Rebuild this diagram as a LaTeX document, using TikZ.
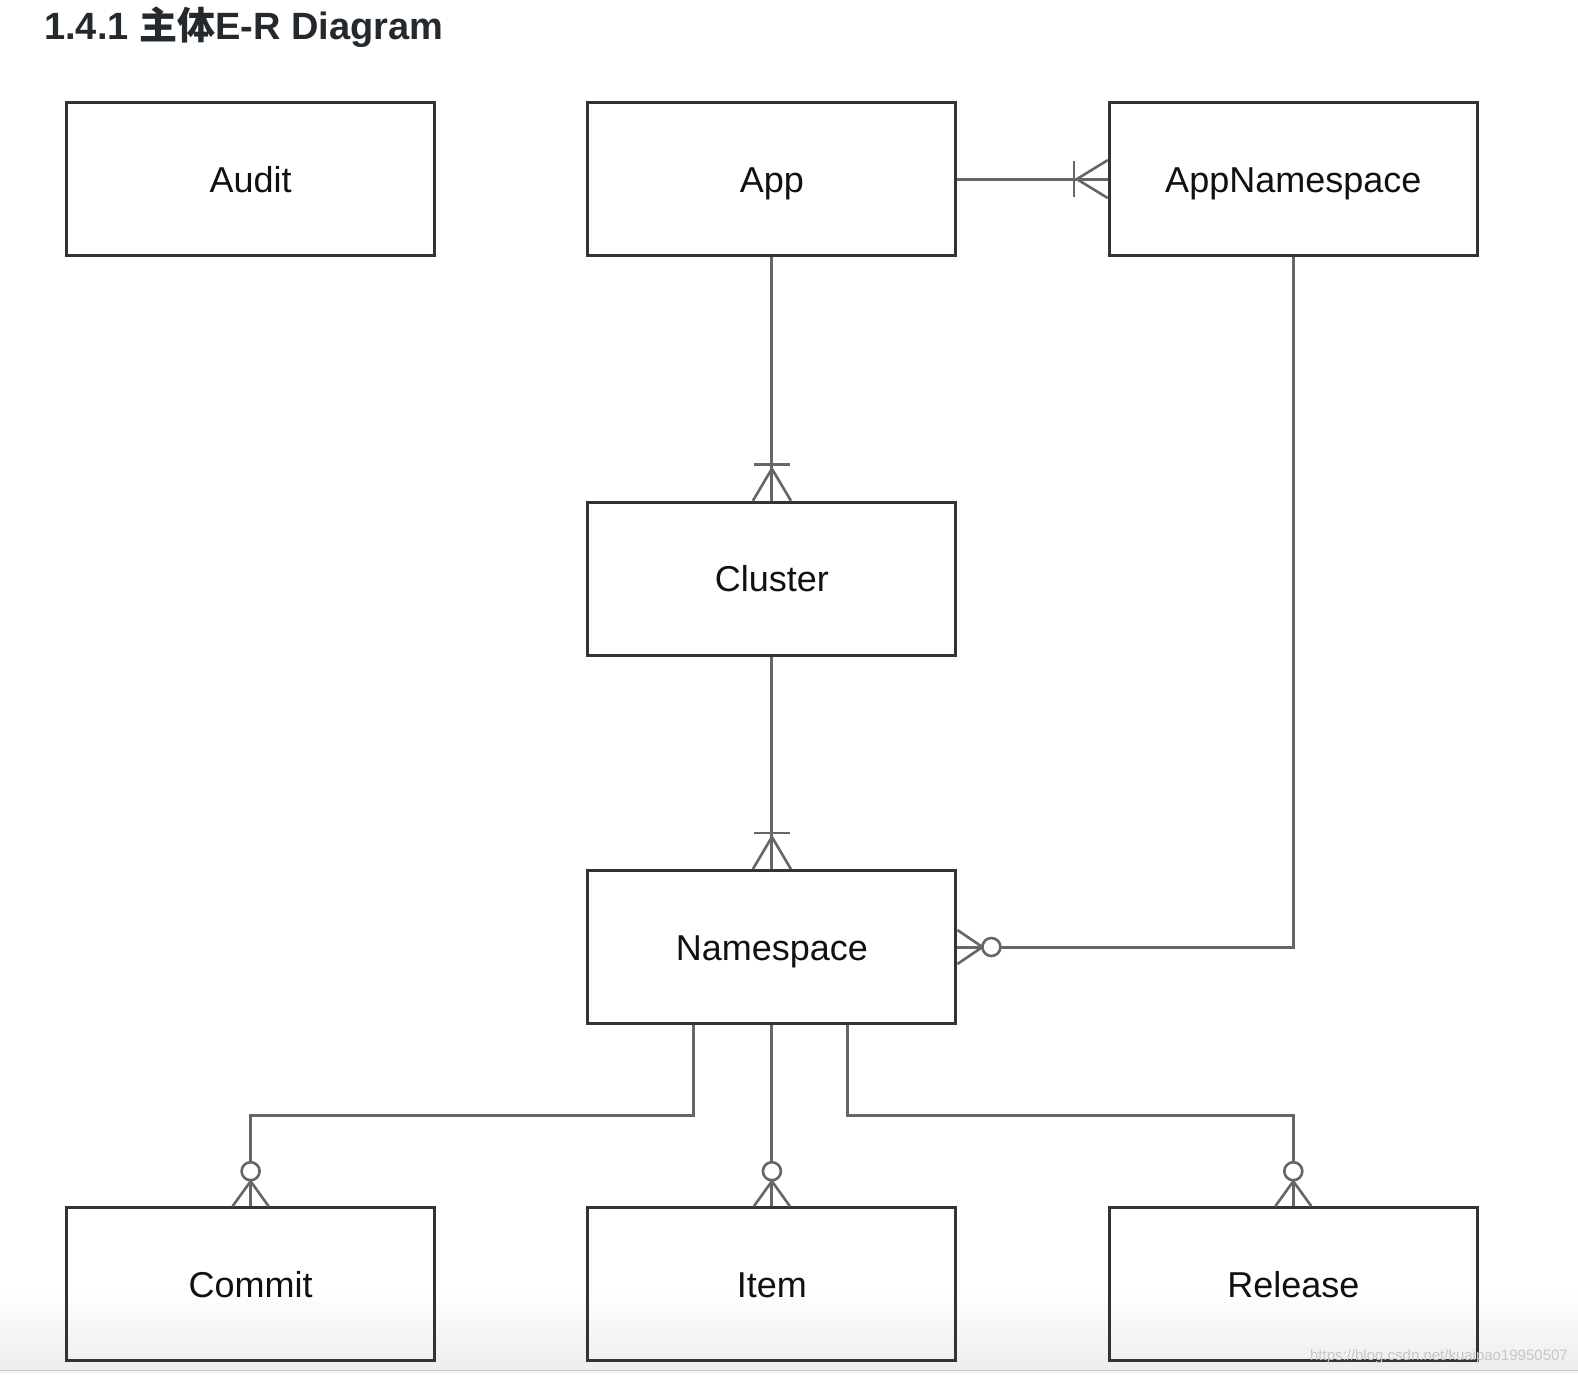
\documentclass[tikz,border=0pt]{standalone}
\usepackage{fontspec}
\setmainfont{Liberation Sans}
\newfontfamily\cjkfont{Noto Sans CJK SC}
\usetikzlibrary{calc}
\definecolor{boxc}{HTML}{333333}
\definecolor{linec}{HTML}{666666}
\definecolor{txtc}{HTML}{111111}
\definecolor{titlec}{HTML}{24292E}
\begin{document}
\begin{tikzpicture}[x=1pt,y=-1pt,
  ent/.style={draw=boxc, line width=3pt, minimum width=368pt, minimum height=153pt,
    text height=26pt, text depth=0pt, inner sep=0pt, font=\fontsize{36}{40}\selectfont, text=txtc},
  conn/.style={draw=linec, line width=3pt},
  mk/.style={draw=linec, line width=2.6pt},
]
\useasboundingbox (0,0) rectangle (1578,1374);
\fill[white] (0,0) rectangle (1578,1374);
\shade[top color=white, bottom color=black!7] (0,1290) rectangle (1578,1370);
\fill[black!4] (0,1370) rectangle (1578,1374);
\draw[black!22, line width=1.5pt] (0,1370.5) -- (1578,1370.5);

% title
\node[anchor=base west, inner sep=0pt, text=titlec, font=\fontsize{38}{40}\selectfont\bfseries] (title) at (44,39) {1.4.1 {\cjkfont\bfseries 主体}E-R Diagram};

% entities
\node[ent] (audit) at (250.6,179.1) {Audit};
\node[ent] (app) at (771.9,179.1) {App};
\node[ent] (appns) at (1293.3,179.1) {AppNamespace};
\node[ent] (cluster) at (771.9,578.7) {Cluster};
\node[ent] (ns) at (771.9,947) {Namespace};
\node[ent] (commit) at (250.6,1284.2) {Commit};
\node[ent] (item) at (771.9,1284.2) {Item};
\node[ent] (release) at (1293.3,1284.2) {Release};

% connectors
\draw[conn] (app.east) -- (appns.west);
\draw[conn] (app.south) -- (cluster.north);
\draw[conn] (cluster.south) -- (ns.north);
\draw[conn] (appns.south) |- (ns.east);
\draw[conn] (ns.south) -- (item.north);
\coordinate (nsl) at ($(ns.south west)!0.29!(ns.south east)$);
\coordinate (nsr) at ($(ns.south west)!0.705!(ns.south east)$);
\draw[conn] (nsl) -- ++(0,90.5) -| (commit.north);
\draw[conn] (nsr) -- ++(0,90.5) -| (release.north);

% one-and-many markers
\draw[mk] ($(appns.west)+(-34,-18)$) -- ++(0,36);
\draw[mk] ($(appns.west)+(0,-19)$) -- ($(appns.west)+(-31,0)$) -- ($(appns.west)+(0,19)$);
\draw[mk] ($(cluster.north)+(-18,-36)$) -- ++(36,0);
\draw[mk] ($(cluster.north)+(-19,0)$) -- ($(cluster.north)+(0,-32)$) -- ($(cluster.north)+(19,0)$);
\draw[mk] ($(ns.north)+(-18,-36)$) -- ++(36,0);
\draw[mk] ($(ns.north)+(-19,0)$) -- ($(ns.north)+(0,-32)$) -- ($(ns.north)+(19,0)$);

% zero-or-many markers
\draw[mk] ($(ns.east)+(0,-17)$) -- ($(ns.east)+(25,0)$) -- ($(ns.east)+(0,17)$);
\draw[mk, fill=white] ($(ns.east)+(34,0)$) circle (9);
\draw[mk] ($(commit.north)+(-18,0)$) -- ($(commit.north)+(0,-25)$) -- ($(commit.north)+(18,0)$);
\draw[mk, fill=white] ($(commit.north)+(0,-35)$) circle (9);
\draw[mk] ($(item.north)+(-18,0)$) -- ($(item.north)+(0,-25)$) -- ($(item.north)+(18,0)$);
\draw[mk, fill=white] ($(item.north)+(0,-35)$) circle (9);
\draw[mk] ($(release.north)+(-18,0)$) -- ($(release.north)+(0,-25)$) -- ($(release.north)+(18,0)$);
\draw[mk, fill=white] ($(release.north)+(0,-35)$) circle (9);

% watermark
\node[anchor=base east, inner sep=0pt, text=black!22, font=\fontsize{15}{16}\selectfont] (wm) at (1568,1360) {https://blog.csdn.net/kuaipao19950507};
\end{tikzpicture}
\end{document}
